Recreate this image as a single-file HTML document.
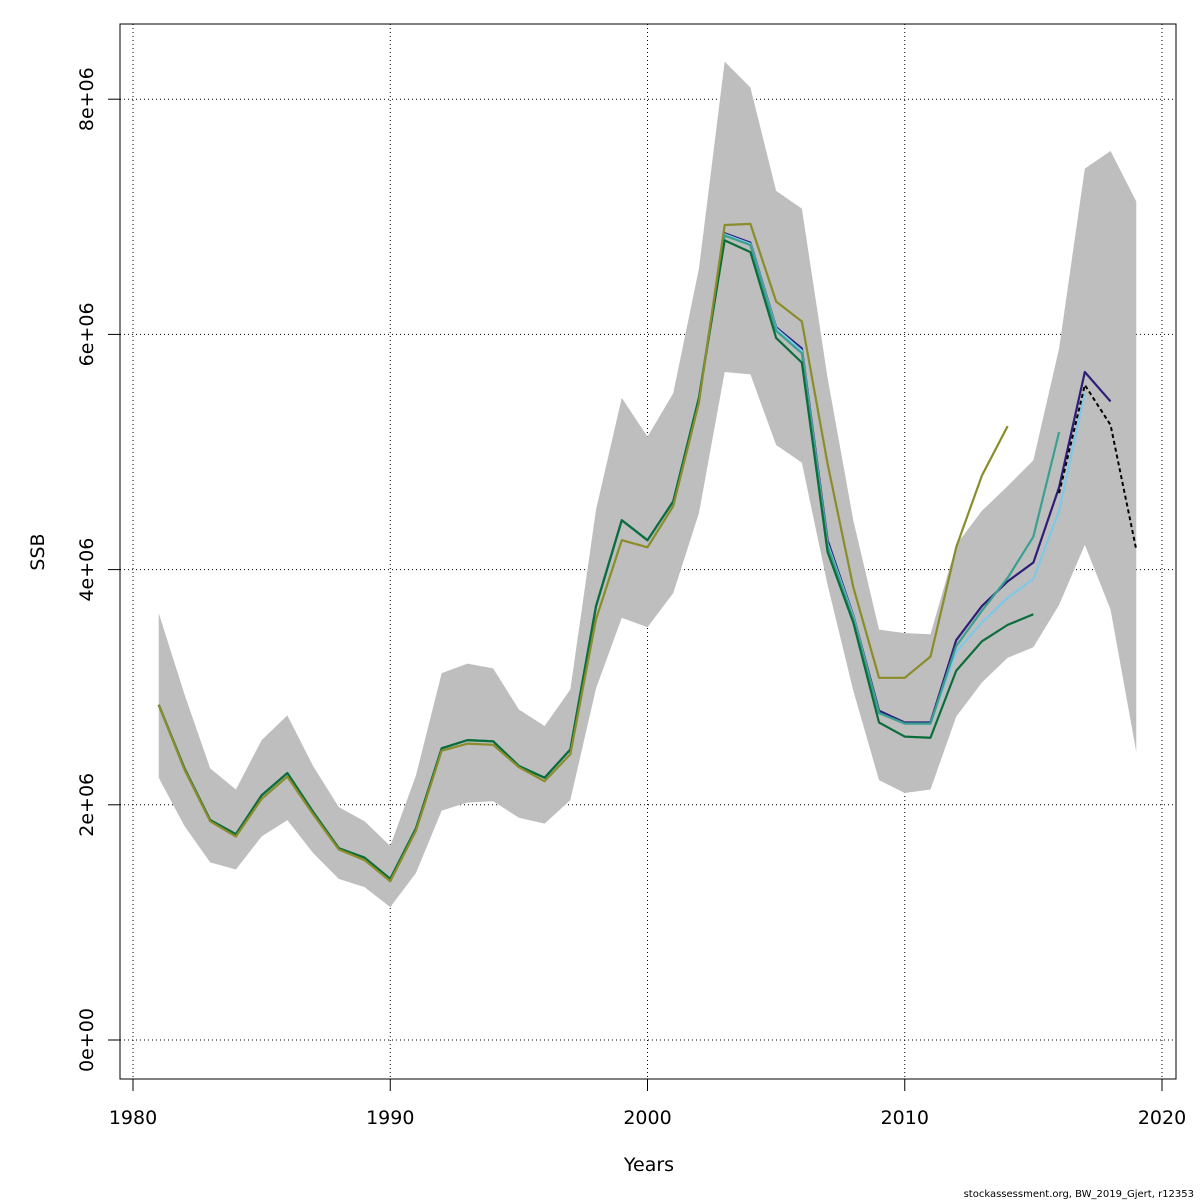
<!DOCTYPE html>
<html><head><meta charset="utf-8"><style>
body{margin:0;background:#fff}
svg{display:block;font-family:"DejaVu Sans","Liberation Sans",sans-serif}
</style></head><body>
<svg id="chart" width="1200" height="1200" viewBox="0 0 1200 1200">
<g id="grid"></g>
<g id="band"></g>
<g id="lines"></g>
<rect x="120" y="24" width="1056" height="1055" fill="none" stroke="#000" stroke-width="1"/>
<g id="axes"></g>
<text x="649" y="1171" font-size="19" text-anchor="middle">Years</text>
<text transform="translate(44,552) rotate(-90)" font-size="19" text-anchor="middle">SSB</text>
<text x="1194" y="1197" font-size="10" text-anchor="end">stockassessment.org, BW_2019_Gjert, r12353</text>
</svg>
<script>
const years=[1981,1982,1983,1984,1985,1986,1987,1988,1989,1990,1991,1992,1993,1994,1995,1996,1997,1998,1999,2000,2001,2002,2003,2004,2005,2006,2007,2008,2009,2010,2011,2012,2013,2014,2015,2016,2017,2018,2019];
const upper=[3.63,2.94,2.31,2.13,2.55,2.76,2.33,1.98,1.86,1.65,2.25,3.12,3.20,3.16,2.81,2.67,2.98,4.51,5.46,5.13,5.50,6.56,8.32,8.10,7.22,7.07,5.63,4.42,3.49,3.46,3.45,4.21,4.50,4.71,4.93,5.88,7.41,7.56,7.13];
const lower=[2.23,1.82,1.51,1.45,1.73,1.87,1.59,1.37,1.30,1.13,1.42,1.95,2.02,2.03,1.89,1.84,2.04,2.99,3.59,3.51,3.80,4.48,5.68,5.66,5.06,4.91,3.87,2.97,2.21,2.10,2.13,2.75,3.04,3.25,3.34,3.70,4.21,3.66,2.45];
const base=[2.85,2.31,1.87,1.75,2.08,2.27,1.94,1.63,1.55,1.37,1.80,2.48,2.55,2.54,2.33,2.23,2.47,3.69,4.42,4.25,4.58,5.46];
const mainMid=[6.86,6.78,6.06,5.88,4.25,3.61];
const mainTail=[2.80,2.70,2.70,3.40,3.69,3.90,4.06,4.70,5.68,5.43];
const olive=[2.85,2.30,1.86,1.73,2.05,2.24,1.92,1.62,1.53,1.35,1.78,2.46,2.52,2.51,2.32,2.20,2.43,3.58,4.25,4.19,4.54,5.42,6.93,6.94,6.28,6.11,4.90,3.85,3.08,3.08,3.26,4.19,4.80,5.22];
const tealMid=[6.84,6.76,6.03,5.84,4.20,3.58];
const tealTail=[2.78,2.69,2.69,3.35,3.65,3.93,4.28,5.17];
const greenMid=[6.80,6.70,5.97,5.76,4.15,3.55];
const greenTail=[2.70,2.58,2.57,3.14,3.39,3.53,3.62];
const lightMid=[6.85,6.77,6.05,5.86,4.22,3.60];
const lightTail=[2.78,2.69,2.69,3.30,3.55,3.76,3.92,4.50,5.50];
const dashedYears=[2016,2017,2018,2019];
const dashedVals=[4.65,5.57,5.23,4.17];
const xTicks=[1980,1990,2000,2010,2020];
const yTicks=[0,2,4,6,8];
const yLabels=["0e+00","2e+06","4e+06","6e+06","8e+06"];

const X=y=>133+(y-1980)*25.725;
const Y=v=>1040-v*117.6;
const NS="http://www.w3.org/2000/svg";
function mk(t,a,p){const e=document.createElementNS(NS,t);for(const k in a)e.setAttribute(k,a[k]);p.appendChild(e);return e;}
const grid=document.getElementById('grid'),axes=document.getElementById('axes'),band=document.getElementById('band'),lines=document.getElementById('lines');
xTicks.forEach(t=>{
 const l=mk('line',{x1:X(t),x2:X(t),y1:24,y2:1079,stroke:'#000','stroke-dasharray':'1,3','stroke-width':1},grid);
 
 
 const k=mk('line',{x1:X(t),x2:X(t),y1:1079,y2:1091,stroke:'#000'},axes);
 
 
 const tx=mk('text',{x:X(t),y:1124,'font-size':19,'text-anchor':'middle'},axes);tx.textContent=t;
 
 
});
yTicks.forEach((t,i)=>{
 const l=mk('line',{x1:120,x2:1176,y1:Y(t),y2:Y(t),stroke:'#000','stroke-dasharray':'1,3','stroke-width':1},grid);
 
 
 const k=mk('line',{x1:108,x2:120,y1:Y(t),y2:Y(t),stroke:'#000'},axes);
 
 
 const tx=mk('text',{transform:`translate(93,${Y(t)}) rotate(-90)`,'font-size':19,'text-anchor':'middle'},axes);tx.textContent=yLabels[i];
 
 
});
let pts=years.map((y,i)=>X(y)+','+Y(upper[i]));
pts=pts.concat(years.slice().reverse().map((y,i)=>X(y)+','+Y(lower[years.length-1-i])));
const poly=mk('polygon',{points:pts.join(' '),fill:'#bebebe',stroke:'none'},band);


function line(vals,startYear,color,name,dash){
 const p=vals.map((v,i)=>X(startYear+i)+','+Y(v)).join(' ');
 const e=mk('polyline',{points:p,fill:'none',stroke:color,'stroke-width':2.2,'stroke-linejoin':'round'},lines);
 if(dash)e.setAttribute('stroke-dasharray',dash);
 
 
}
line(base.concat(mainMid,mainTail),1981,'#2d1e7a','ssb-main-line');
line(base.concat(lightMid,lightTail),1981,'#7ec8e8','retro-2017-line');
line(base.concat(tealMid,tealTail),1981,'#3aa08f','retro-2016-line');
line(base.concat(greenMid,greenTail),1981,'#0b6e3a','retro-2015-line');
line(olive,1981,'#8b8c2a','retro-2014-line');
const dp=dashedYears.map((y,i)=>X(y)+','+Y(dashedVals[i])).join(' ');
const d=mk('polyline',{points:dp,fill:'none',stroke:'#000','stroke-width':2,'stroke-dasharray':'4,3'},lines);


</script>
</body></html>
